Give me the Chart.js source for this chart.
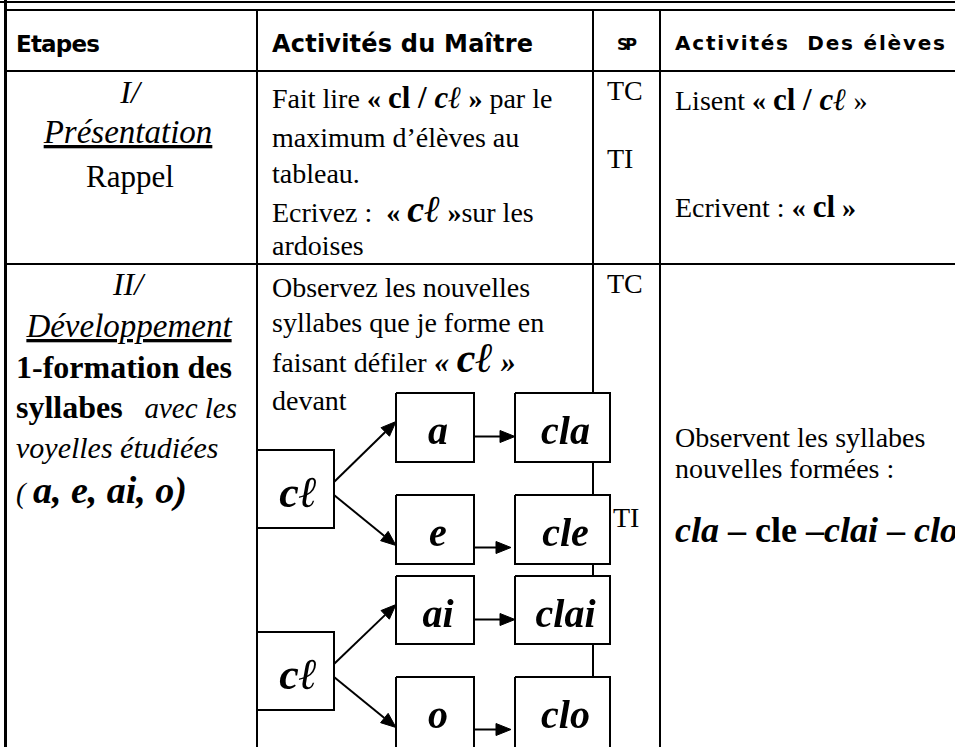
<!DOCTYPE html>
<html lang="fr">
<head>
<meta charset="utf-8">
<script src="https://cdn.jsdelivr.net/npm/chart.js@4.4.1/dist/chart.umd.min.js"></script>
<style>
html,body{margin:0;padding:0;background:#fff;overflow:hidden;}
#page{position:relative;width:955px;height:747px;overflow:hidden;}
#grid,#diagram{position:absolute;left:0;top:0;}
#diagram{pointer-events:none;}
.s{font-family:"Liberation Serif","DejaVu Serif",serif;font-size:28px;fill:#000;white-space:pre;}
.h{font-family:"Comic Sans MS","DejaVu Sans",sans-serif;font-weight:bold;fill:#000;white-space:pre;}
.i{font-style:italic}
.b{font-weight:bold}
.sc{font-style:italic;font-weight:bold}
</style>
</head>
<body>
<div id="page">
<svg id="grid" width="955" height="747" xmlns="http://www.w3.org/2000/svg">
  <g fill="#000">
    <rect x="0" y="1" width="955" height="2"/>
    <rect x="5" y="9" width="950" height="2"/>
    <rect x="4" y="0" width="3" height="747"/>
    <rect x="5" y="70" width="950" height="2"/>
    <rect x="5" y="263" width="950" height="2"/>
    <rect x="256" y="10" width="2" height="737"/>
    <rect x="592" y="10" width="2" height="737"/>
    <rect x="659" y="10" width="2" height="737"/>
  </g>

  <!-- header -->
  <text class="h" x="16" y="52" style="font-size:23px" textLength="84">Etapes</text>
  <text class="h" x="272" y="52" style="font-size:24px" textLength="261">Activités du Maître</text>
  <text class="h" x="617" y="50" style="font-size:16px" textLength="20">SP</text>
  <text class="h" x="675" y="50" style="font-size:20px" textLength="270">Activités  Des élèves</text>

  <!-- row 1 -->
  <text class="s i" x="130" y="103" style="font-size:32px" text-anchor="middle">I/</text>
  <text class="s i" x="128" y="143" style="font-size:33px" text-anchor="middle" text-decoration="underline">Présentation</text>
  <text class="s" x="130" y="187" style="font-size:31px" text-anchor="middle">Rappel</text>

  <text class="s" x="272" y="108">Fait lire <tspan class="b">« </tspan><tspan class="b" style="font-size:31px">cl / </tspan><tspan class="sc" style="font-size:31px">cℓ</tspan><tspan class="b"> »</tspan> par le</text>
  <text class="s" x="272" y="147">maximum d’élèves au</text>
  <text class="s" x="272" y="183">tableau.</text>
  <text class="s" x="272" y="222">Ecrivez :  <tspan class="b">« </tspan><tspan class="sc" style="font-size:38px">cℓ</tspan><tspan class="b"> »</tspan>sur les</text>
  <text class="s" x="272" y="255">ardoises</text>

  <text class="s" x="607" y="100">TC</text>
  <text class="s" x="607" y="168">TI</text>

  <text class="s" x="675" y="110">Lisent <tspan class="b">« </tspan><tspan class="b" style="font-size:31px">cl / </tspan><tspan class="sc" style="font-size:31px">cℓ</tspan> »</text>
  <text class="s" x="675" y="217">Ecrivent : <tspan class="b">« </tspan><tspan class="b" style="font-size:31px">cl</tspan><tspan class="b"> »</tspan></text>

  <!-- row 2 -->
  <text class="s i" x="128" y="295" style="font-size:32px" text-anchor="middle">II/</text>
  <text class="s i" x="129" y="337" style="font-size:33px" text-anchor="middle" text-decoration="underline">Développement</text>
  <text class="s b" x="16" y="378" style="font-size:32px">1-formation des</text>
  <text class="s" x="16" y="418"><tspan class="b" style="font-size:32px">syllabes</tspan><tspan class="i" style="font-size:29px">   avec les</tspan></text>
  <text class="s i" x="16" y="458" style="font-size:30px">voyelles étudiées</text>
  <text class="s" x="16" y="503"><tspan class="i" style="font-size:29px">( </tspan><tspan class="sc" style="font-size:38px">a, e, ai, o)</tspan></text>

  <text class="s" x="272" y="297">Observez les nouvelles</text>
  <text class="s" x="272" y="332">syllabes que je forme en</text>
  <text class="s" x="272" y="372">faisant défiler<tspan class="sc" style="font-size:30px"> « </tspan><tspan class="sc" style="font-size:42px">cℓ</tspan><tspan class="sc" style="font-size:30px"> »</tspan></text>
  <text class="s" x="272" y="410">devant</text>

  <text class="s" x="607" y="293">TC</text>
  <text class="s" x="613" y="527">TI</text>

  <text class="s" x="675" y="447">Observent les syllabes</text>
  <text class="s" x="675" y="478">nouvelles formées :</text>
  <text class="s" x="675" y="542" style="font-size:36px"><tspan class="sc">cla</tspan><tspan class="b"> – cle –</tspan><tspan class="sc">clai</tspan><tspan class="b"> – </tspan><tspan class="sc">clo</tspan></text>
</svg>
<canvas id="diagram" width="955" height="747"></canvas>
</div>

<script>
// syllable tree: root consonant -> vowels -> new syllables
const rootLabels = ["cℓ", "cℓ"];
const vowelLabels = ["a", "e", "ai", "o"];
const syllableLabels = ["cla", "cle", "clai", "clo"];
const vowelRoot = [0, 0, 1, 1];     // which root each vowel hangs from
const vowelBranch = [-1, 1, -1, 1]; // upper / lower branch of its root

// layout (page pixels == data units)
const COL_ROOT = [257, 334], COL_VOWEL = [396, 474], COL_SYL = [515, 610];
const ROOT_TOP = [450, 632], ROOT_H = 78;
const VOWEL_TOP = [393, 495, 576, 677], VOWEL_H = [69, 69, 68, 80];
const HEAD_LEN = 15, HEAD_W = 6;

const boxes = [];
rootLabels.forEach((lab, i) => boxes.push({ label: lab, x0: COL_ROOT[0], x1: COL_ROOT[1], y0: ROOT_TOP[i], y1: ROOT_TOP[i] + ROOT_H, base: ROOT_TOP[i] + 57, size: 44 }));
vowelLabels.forEach((lab, i) => boxes.push({ label: lab, x0: COL_VOWEL[0], x1: COL_VOWEL[1], y0: VOWEL_TOP[i], y1: VOWEL_TOP[i] + VOWEL_H[i], base: VOWEL_TOP[i] + 51, size: 40 }));
syllableLabels.forEach((lab, i) => boxes.push({ label: lab, x0: COL_SYL[0], x1: COL_SYL[1], y0: VOWEL_TOP[i], y1: VOWEL_TOP[i] + VOWEL_H[i], base: VOWEL_TOP[i] + 51, size: 40 }));

const datasets = [];
for (const b of boxes){
  datasets.push({
    type: "line",
    data: [{x:b.x0,y:b.y0},{x:b.x1,y:b.y0},{x:b.x1,y:b.y1},{x:b.x0,y:b.y1},{x:b.x0,y:b.y0}],
    borderColor: "#000", borderWidth: 2, borderJoinStyle: "miter",
    backgroundColor: "#fff", fill: "shape", pointRadius: 0, tension: 0
  });
}

function arrow(x0, y0, x1, y1){
  const dx = x1 - x0, dy = y1 - y0, L = Math.hypot(dx, dy);
  const ux = dx / L, uy = dy / L;
  const bx = x1 - ux * HEAD_LEN, by = y1 - uy * HEAD_LEN;
  datasets.push({
    type: "line", data: [{x:x0,y:y0},{x:bx,y:by}],
    borderColor: "#000", borderWidth: 2, pointRadius: 0, fill: false
  });
  datasets.push({
    type: "line",
    data: [{x:x1,y:y1},{x:bx - uy*HEAD_W,y:by + ux*HEAD_W},{x:bx + uy*HEAD_W,y:by - ux*HEAD_W},{x:x1,y:y1}],
    borderColor: "#000", borderWidth: 1, backgroundColor: "#000", fill: "shape", pointRadius: 0
  });
}

vowelLabels.forEach((v, i) => {
  const r = vowelRoot[i], up = vowelBranch[i] < 0;
  const rootMid = ROOT_TOP[r] + ROOT_H / 2;
  const vMid = VOWEL_TOP[i] + 34.5;
  // root -> vowel (diagonal)
  arrow(COL_ROOT[1], rootMid + (up ? -7 : 6), COL_VOWEL[0], vMid + (up ? -6 : 16));
  // vowel -> syllable (horizontal)
  const hy = vMid + (up ? 9 : 18);
  arrow(COL_VOWEL[1] + 1, hy, COL_SYL[0] - (up ? 0 : 4), hy);
});

const boxText = {
  id: "boxText",
  afterDatasetsDraw(chart){
    const { ctx, scales: { x, y } } = chart;
    ctx.save();
    ctx.fillStyle = "#000";
    ctx.textAlign = "center";
    ctx.textBaseline = "alphabetic";
    for (const b of boxes){
      ctx.font = `italic bold ${b.size}px "Liberation Serif", "DejaVu Serif", serif`;
      ctx.fillText(b.label, x.getPixelForValue((b.x0 + b.x1) / 2 + 3), y.getPixelForValue(b.base));
    }
    ctx.restore();
  }
};

new Chart(document.getElementById("diagram"), {
  type: "scatter",
  data: { datasets },
  plugins: [boxText],
  options: {
    responsive: false,
    animation: false,
    layout: { padding: 0 },
    plugins: { legend: { display: false }, tooltip: { enabled: false } },
    scales: {
      x: { type: "linear", min: 0, max: 955, display: false },
      y: { type: "linear", min: 0, max: 747, reverse: true, display: false }
    }
  }
});
</script>
</body>
</html>
